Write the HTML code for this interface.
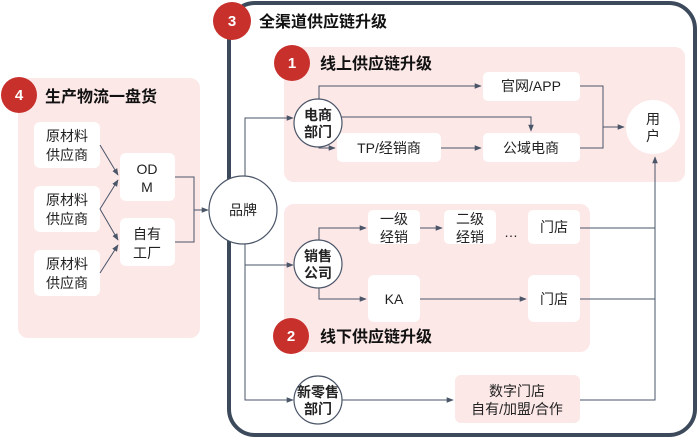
<!DOCTYPE html>
<html><head><meta charset="utf-8"><style>
body{margin:0;background:#fff}
text{font-family:"Liberation Sans","Noto Sans CJK SC",sans-serif;fill:#222}
.t{font-size:14px}
.h{font-size:16px;font-weight:bold;fill:#111}
.b{font-size:15px;font-weight:bold;fill:#fff}
</style></head><body>
<svg width="700" height="438" viewBox="0 0 700 438" xmlns="http://www.w3.org/2000/svg">
<defs><marker id="a" viewBox="0 0 10 10" refX="9" refY="5" markerWidth="7" markerHeight="7" orient="auto"><path d="M0,1 L10,5 L0,9z" fill="#4a5568"/></marker></defs>
<g stroke="#3d4a5c" fill="none"><rect x="229" y="3" width="466" height="432" rx="26" stroke-width="4"/></g>
<rect x="18" y="78" width="182" height="260" rx="10" fill="#fde8e8"/>
<rect x="284" y="47" width="401" height="135" rx="10" fill="#fde8e8"/>
<rect x="284" y="204" width="306" height="148" rx="10" fill="#fde8e8"/>
<g fill="#fff">
<rect x="34" y="122" width="66" height="46" rx="6"/><rect x="34" y="186" width="66" height="46" rx="6"/><rect x="34" y="250" width="66" height="46" rx="6"/>
<rect x="120" y="153" width="55" height="48" rx="6"/><rect x="120" y="218" width="55" height="48" rx="6"/>
<rect x="483" y="72" width="97" height="29" rx="5"/><rect x="483" y="133" width="97" height="29" rx="5"/><rect x="337" y="133" width="104" height="29" rx="5"/>
<rect x="368" y="210" width="52" height="34" rx="5"/><rect x="444" y="210" width="52" height="34" rx="5"/><rect x="528" y="210" width="52" height="34" rx="5"/>
<rect x="368" y="275" width="52" height="47" rx="6"/><rect x="528" y="275" width="52" height="47" rx="6"/>
</g>
<rect x="455" y="375" width="125" height="48" rx="6" fill="#fde8e8"/>
<g stroke="#4a5568" stroke-width="1" fill="none">
<path d="M100,145 L118,175" marker-end="url(#a)"/><path d="M100,209 L118,180" marker-end="url(#a)"/><path d="M100,209 L118,240" marker-end="url(#a)"/><path d="M100,273 L118,245" marker-end="url(#a)"/>
<path d="M175,177 H194 V210 H208" marker-end="url(#a)"/><path d="M175,242 H194 V210"/>
<path d="M245,176 V118 H293" marker-end="url(#a)"/>
<path d="M245,244 V400 H293" marker-end="url(#a)"/><path d="M245,265 H293" marker-end="url(#a)"/>
<path d="M319,99 V86 H481" marker-end="url(#a)"/><path d="M342,117 H531 V131" marker-end="url(#a)"/><path d="M319,147 V148 H335" marker-end="url(#a)"/>
<path d="M441,148 H481" marker-end="url(#a)"/>
<path d="M580,86 H603 V148 H580"/><path d="M603,127 H624" marker-end="url(#a)"/>
<path d="M319,240 V228 H366" marker-end="url(#a)"/><path d="M420,228 H442" marker-end="url(#a)"/>
<path d="M319,288 V299 H366" marker-end="url(#a)"/><path d="M420,299 H526" marker-end="url(#a)"/>
<path d="M580,228 H655"/><path d="M580,299 H655"/><path d="M580,400 H655 V157" marker-end="url(#a)"/>
<path d="M342,400 H453" marker-end="url(#a)"/>
</g>
<g fill="#fff" stroke="#4a5568" stroke-width="1.2">
<circle cx="243" cy="210" r="34"/><circle cx="318" cy="123" r="24"/><circle cx="318" cy="264" r="24"/><circle cx="318" cy="400" r="24"/>
</g>
<circle cx="653" cy="127" r="27" fill="#fff"/>
<g fill="#c8302c"><circle cx="232" cy="21" r="19"/><circle cx="292" cy="63" r="18"/><circle cx="19" cy="95" r="18"/><circle cx="291" cy="336" r="18"/></g>
<text class="b" x="232" y="26" text-anchor="middle">3</text><text class="b" x="292" y="68" text-anchor="middle">1</text><text class="b" x="19" y="100" text-anchor="middle">4</text><text class="b" x="291" y="341" text-anchor="middle">2</text>
<text class="h" x="259" y="27">全渠道供应链升级</text><text class="h" x="320" y="69">线上供应链升级</text><text class="h" x="45" y="102">生产物流一盘货</text><text class="h" x="320" y="342">线下供应链升级</text>
<g class="t" text-anchor="middle">
<text x="67" y="141">原材料</text><text x="67" y="160">供应商</text>
<text x="67" y="205">原材料</text><text x="67" y="224">供应商</text>
<text x="67" y="269">原材料</text><text x="67" y="288">供应商</text>
<text x="147" y="174">OD</text><text x="147" y="192">M</text>
<text x="147" y="239">自有</text><text x="147" y="258">工厂</text>
<text x="243" y="215">品牌</text>
<text x="318" y="120" font-weight="bold" fill="#2d3a4c">电商</text><text x="318" y="137" font-weight="bold" fill="#2d3a4c">部门</text>
<text x="318" y="261" font-weight="bold" fill="#2d3a4c">销售</text><text x="318" y="278" font-weight="bold" fill="#2d3a4c">公司</text>
<text x="318" y="397" font-weight="bold" fill="#2d3a4c">新零售</text><text x="318" y="414" font-weight="bold" fill="#2d3a4c">部门</text>
<text x="531" y="91">官网/APP</text><text x="531" y="153">公域电商</text><text x="389" y="153">TP/经销商</text>
<text x="653" y="124">用</text><text x="653" y="141">户</text>
<text x="394" y="224">一级</text><text x="394" y="242">经销</text><text x="470" y="224">二级</text><text x="470" y="242">经销</text>
<text x="511" y="237">…</text><text x="554" y="232">门店</text>
<text x="394" y="304">KA</text><text x="554" y="304">门店</text>
<text x="517" y="396">数字门店</text><text x="517" y="414">自有/加盟/合作</text>
</g>
</svg>
</body></html>
